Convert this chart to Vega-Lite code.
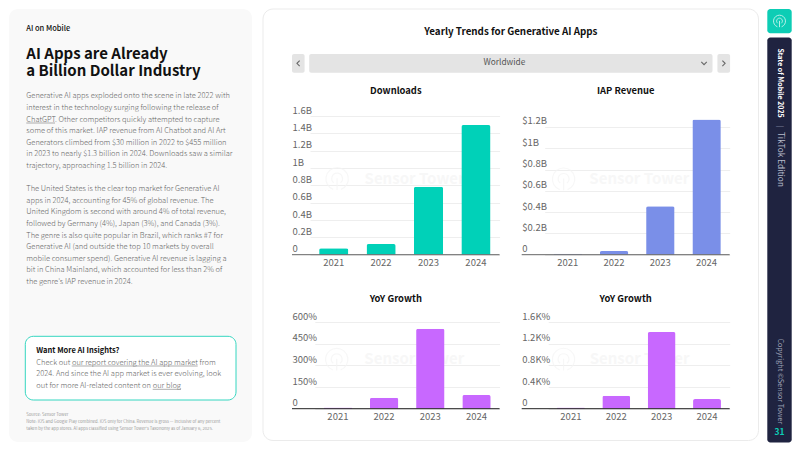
{"$schema":"https://vega.github.io/schema/vega-lite/v6.json","background":"#ffffff","padding":{"left":9,"top":8,"right":8,"bottom":9},"bounds":"flush","spacing":11,"config":{"font":"Noto Sans CJK SC","view":{"stroke":null},"axis":{"labelFont":"Noto Sans CJK SC","labelColor":"#666666","labelFontSize":9.5,"labelOverlap":false,"labelBound":false,"title":null,"ticks":false,"domain":false},"title":{"font":"Noto Sans CJK SC","fontSize":9.4,"fontWeight":"bold","color":"#111111"}},"hconcat":[
{"width":243,"height":433,"view":{"fill":"#f9f9f9","cornerRadius":9},"data":{"values":[{}]},"resolve":{"scale":{"y":"independent"}},"layer":[
{"mark":{"type":"rect","fill":"#ffffff","stroke":"#35d6c0","strokeWidth":1,"cornerRadius":8},"encoding":{"x":{"datum":16.3,"type":"quantitative","scale":{"domain":[0,243]},"axis":null},"x2":{"datum":227},"y":{"datum":327.3,"type":"quantitative","scale":{"domain":[0,433],"range":[0,433]},"axis":null},"y2":{"datum":391}}},
{"data":{"values":[{"line":0,"text":"AI on Mobile"}]},"mark":{"type":"text","align":"left","fontSize":7.5,"fontWeight":500,"color":"#111111"},"encoding":{"x":{"datum":17.3,"type":"quantitative","scale":{"domain":[0,243]},"axis":null},"y":{"field":"line","type":"quantitative","scale":{"domain":[0,1],"range":[20.3,21.3]},"axis":null},"text":{"field":"text"}}},
{"data":{"values":[{"line":0,"text":"AI Apps are Already"},{"line":1,"text":"a Billion Dollar Industry"}]},"mark":{"type":"text","align":"left","fontSize":15,"fontWeight":"bold","color":"#111111"},"encoding":{"x":{"datum":17.3,"type":"quantitative","scale":{"domain":[0,243]},"axis":null},"y":{"field":"line","type":"quantitative","scale":{"domain":[0,1],"range":[45.3,62]},"axis":null},"text":{"field":"text"}}},
{"data":{"values":[{"line":0,"text":"Generative AI apps exploded onto the scene in late 2022 with"},{"line":1,"text":"interest in the technology surging following the release of"},{"line":2,"text":"ChatGPT. Other competitors quickly attempted to capture"},{"line":3,"text":"some of this market. IAP revenue from AI Chatbot and AI Art"},{"line":4,"text":"Generators climbed from $30 million in 2022 to $455 million"},{"line":5,"text":"in 2023 to nearly $1.3 billion in 2024. Downloads saw a similar"},{"line":6,"text":"trajectory, approaching 1.5 billion in 2024."},{"line":8,"text":"The United States is the clear top market for Generative AI"},{"line":9,"text":"apps in 2024, accounting for 45% of global revenue. The"},{"line":10,"text":"United Kingdom is second with around 4% of total revenue,"},{"line":11,"text":"followed by Germany (4%), Japan (3%), and Canada (3%)."},{"line":12,"text":"The genre is also quite popular in Brazil, which ranks #7 for"},{"line":13,"text":"Generative AI (and outside the top 10 markets by overall"},{"line":14,"text":"mobile consumer spend). Generative AI revenue is lagging a"},{"line":15,"text":"bit in China Mainland, which accounted for less than 2% of"},{"line":16,"text":"the genre's IAP revenue in 2024."}]},"mark":{"type":"text","align":"left","fontSize":7.5,"fontWeight":300,"color":"#666666"},"encoding":{"x":{"datum":17.3,"type":"quantitative","scale":{"domain":[0,243]},"axis":null},"y":{"field":"line","type":"quantitative","scale":{"domain":[0,16],"range":[87.3,272.9]},"axis":null},"text":{"field":"text"}}},
{"data":{"values":[{"line":0,"text":"Want More AI Insights?"}]},"mark":{"type":"text","align":"left","fontSize":7.5,"fontWeight":"bold","color":"#111111"},"encoding":{"x":{"datum":27.3,"type":"quantitative","scale":{"domain":[0,243]},"axis":null},"y":{"field":"line","type":"quantitative","scale":{"domain":[0,1],"range":[342,343]},"axis":null},"text":{"field":"text"}}},
{"data":{"values":[{"line":0,"text":"Check out our report covering the AI app market from"},{"line":1,"text":"2024. And since the AI app market is ever evolving, look"},{"line":2,"text":"out for more AI-related content on our blog"}]},"mark":{"type":"text","align":"left","fontSize":7.5,"fontWeight":300,"color":"#666666"},"encoding":{"x":{"datum":27.3,"type":"quantitative","scale":{"domain":[0,243]},"axis":null},"y":{"field":"line","type":"quantitative","scale":{"domain":[0,2],"range":[353.7,377]},"axis":null},"text":{"field":"text"}}},
{"data":{"values":[{"line":0,"text":"Source: Sensor Tower"},{"line":1,"text":"Note: iOS and Google Play combined. iOS only for China. Revenue is gross — inclusive of any percent"},{"line":2,"text":"taken by the app stores. AI apps classified using Sensor Tower's Taxonomy as of January 6, 2025."}]},"mark":{"type":"text","align":"left","fontSize":4.2,"color":"#999999"},"encoding":{"x":{"datum":17.3,"type":"quantitative","scale":{"domain":[0,243]},"axis":null},"y":{"field":"line","type":"quantitative","scale":{"domain":[0,2],"range":[406.3,419.5]},"axis":null},"text":{"field":"text"}}},
{"mark":{"type":"rule","color":"#777777","strokeWidth":0.6},"encoding":{"x":{"datum":17.3,"type":"quantitative","scale":{"domain":[0,243]},"axis":null},"x2":{"datum":46},"y":{"datum":114,"type":"quantitative","scale":{"domain":[0,433],"range":[0,433]},"axis":null}}},
{"mark":{"type":"rule","color":"#777777","strokeWidth":0.6},"encoding":{"x":{"datum":62.7,"type":"quantitative","scale":{"domain":[0,243]},"axis":null},"x2":{"datum":188.7},"y":{"datum":357,"type":"quantitative","scale":{"domain":[0,433],"range":[0,433]},"axis":null}}},
{"mark":{"type":"rule","color":"#777777","strokeWidth":0.6},"encoding":{"x":{"datum":143.7,"type":"quantitative","scale":{"domain":[0,243]},"axis":null},"x2":{"datum":172},"y":{"datum":380.3,"type":"quantitative","scale":{"domain":[0,433],"range":[0,433]},"axis":null}}}
]},
{"bounds":"flush","spacing":504.3,"hconcat":[
{"bounds":"flush","spacing":0,"hconcat":[
{"width":28.7,"height":431.5,"data":{"values":[{}]},"mark":{"type":"rect","fill":"#ffffff","stroke":"#ebebeb","cornerRadius":10},"encoding":{"x":{"datum":0,"type":"quantitative","scale":{"domain":[0,1],"range":[0,495.5]},"axis":null},"x2":{"datum":1}}},
{"bounds":"flush","spacing":107,"vconcat":[
{"bounds":"flush","spacing":0,"vconcat":[
{"width":437.6,"height":44.3,"title":{"text":"Yearly Trends for Generative AI Apps","fontSize":9.8,"anchor":"middle","offset":-28},"data":{"values":[{}]},"mark":{"type":"rect","opacity":0},"encoding":{}},
{"bounds":"flush","spacing":4.2,"hconcat":[
{"width":12.6,"height":18.7,"view":{"fill":"#e4e4e4","cornerRadius":2},"data":{"values":[{"control":"previous"}]},"mark":{"type":"point","shape":"M0.5,-1 L-0.5,0 L0.5,1","filled":false,"stroke":"#333333","strokeWidth":1.1,"size":30},"encoding":{}},
{"width":403.3,"height":18.7,"view":{"fill":"#e4e4e4","cornerRadius":2},"data":{"values":[{"label":"Worldwide"}]},"layer":[{"mark":{"type":"text","fontSize":8.3,"color":"#555555"},"encoding":{"x":{"datum":48.4,"type":"quantitative","scale":{"domain":[0,100]},"axis":null},"text":{"field":"label"}}},{"mark":{"type":"point","shape":"M-1,-0.5 L0,0.5 L1,-0.5","filled":false,"stroke":"#333333","strokeWidth":1.1,"size":30},"encoding":{"x":{"datum":97.9,"type":"quantitative","scale":{"domain":[0,100]},"axis":null}}}]},
{"width":12.7,"height":18.7,"view":{"fill":"#e4e4e4","cornerRadius":2},"data":{"values":[{"control":"next"}]},"mark":{"type":"point","shape":"M-0.5,-1 L0.5,0 L-0.5,1","filled":false,"stroke":"#333333","strokeWidth":1.1,"size":30},"encoding":{}}
]}
]},
{"bounds":"flush","columns":2,"spacing":{"row":67,"column":21.7},"concat":[
{"width":207.6,"height":138.7,"title":{"text":"Downloads","anchor":"middle","offset":9},"data":{"values":[{"year":"2021","value":0.073},{"year":"2022","value":0.123},{"year":"2023","value":0.783},{"year":"2024","value":1.496}]},"encoding":{"x":{"field":"year","type":"nominal","scale":{"domain":["2021","2022","2023","2024"],"range":[18,207.6],"paddingInner":0.385,"paddingOuter":0.1925},"axis":{"labelAngle":0,"labelPadding":3,"grid":false}}},"layer":[
{"data":{"values":[{"watermark":"Sensor Tower"}]},"mark":{"type":"text","fontSize":15,"fontWeight":"bold","color":"#f7f7f7","dx":-14},"encoding":{"x":{"datum":"2023"},"y":{"datum":0.875,"type":"quantitative"},"text":{"field":"watermark"}}},
{"data":{"values":[{"watermark":"Sensor Tower"}]},"mark":{"type":"point","shape":"M-0.35,0.94 A1,1 0 1 1 0.35,0.94 M-0.3,0.35 A0.48,0.48 0 1 1 0.3,0.35 M0,-0.05 L0,1","filled":false,"stroke":"#f5f5f5","strokeWidth":1.2,"size":500},"encoding":{"x":{"datum":"2021"},"xOffset":{"value":18},"y":{"datum":0.875,"type":"quantitative"}}},
{"mark":{"type":"bar","color":"#00d1b8","cornerRadiusTopLeft":2,"cornerRadiusTopRight":2},"encoding":{"y":{"field":"value","type":"quantitative","scale":{"domain":[0,1.6]},"axis":{"values":[0,0.2,0.4,0.6,0.8,1,1.2,1.4,1.6],"tickCount":20,"labelExpr":"datum.value==0?'0':datum.value+'B'","labelAlign":"left","labelBaseline":"bottom","labelPadding":0,"labelOffset":-1,"tickSize":0,"grid":true,"gridColor":"#eeeeee"}}}},
{"mark":{"type":"rule","color":"#666666","strokeWidth":1},"encoding":{"y":{"datum":0,"type":"quantitative"},"x":{"value":0},"x2":{"value":207.6}},"data":{"values":[{}]}}
]},
{"width":208,"height":138.7,"title":{"text":"IAP Revenue","anchor":"middle","offset":20},"data":{"values":[{"year":"2021","value":0.008},{"year":"2022","value":0.034},{"year":"2023","value":0.456},{"year":"2024","value":1.27}]},"encoding":{"x":{"field":"year","type":"nominal","scale":{"domain":["2021","2022","2023","2024"],"range":[23,208],"paddingInner":0.385,"paddingOuter":0.1925},"axis":{"labelAngle":0,"labelPadding":3,"grid":false}}},"layer":[
{"data":{"values":[{"watermark":"Sensor Tower"}]},"mark":{"type":"text","fontSize":15,"fontWeight":"bold","color":"#f7f7f7","dx":-21},"encoding":{"x":{"datum":"2023"},"y":{"datum":0.71,"type":"quantitative","scale":{"domain":[0,1.303],"nice":false}},"text":{"field":"watermark"}}},
{"data":{"values":[{"watermark":"Sensor Tower"}]},"mark":{"type":"point","shape":"M-0.35,0.94 A1,1 0 1 1 0.35,0.94 M-0.3,0.35 A0.48,0.48 0 1 1 0.3,0.35 M0,-0.05 L0,1","filled":false,"stroke":"#f5f5f5","strokeWidth":1.2,"size":500},"encoding":{"x":{"datum":"2021"},"xOffset":{"value":10},"y":{"datum":0.71,"type":"quantitative","scale":{"domain":[0,1.303],"nice":false}}}},
{"mark":{"type":"bar","color":"#7a8fe8","cornerRadiusTopLeft":2,"cornerRadiusTopRight":2},"encoding":{"y":{"field":"value","type":"quantitative","scale":{"domain":[0,1.303],"nice":false},"axis":{"values":[0,0.2,0.4,0.6,0.8,1,1.2],"tickCount":20,"labelExpr":"datum.value==0?'0':'$'+datum.value+'B'","labelAlign":"left","labelBaseline":"bottom","labelPadding":0,"labelOffset":-1,"tickSize":0,"grid":true,"gridColor":"#eeeeee"}}}},
{"mark":{"type":"rule","color":"#666666","strokeWidth":1},"encoding":{"y":{"datum":0,"type":"quantitative","scale":{"domain":[0,1.303],"nice":false}},"x":{"value":0},"x2":{"value":208}},"data":{"values":[{}]}}
]},
{"width":207.6,"height":86.7,"title":{"text":"YoY Growth","anchor":"middle","offset":7},"data":{"values":[{"year":"2021","value":9},{"year":"2022","value":76},{"year":"2023","value":554},{"year":"2024","value":95}]},"encoding":{"x":{"field":"year","type":"nominal","scale":{"domain":["2021","2022","2023","2024"],"range":[22.8,207.6],"paddingInner":0.385,"paddingOuter":0.1925},"axis":{"labelAngle":0,"labelPadding":3,"grid":false}}},"layer":[
{"data":{"values":[{"watermark":"Sensor Tower"}]},"mark":{"type":"text","fontSize":15,"fontWeight":"bold","color":"#f7f7f7","dx":-16},"encoding":{"x":{"datum":"2023"},"y":{"datum":341,"type":"quantitative"},"text":{"field":"watermark"}}},
{"data":{"values":[{"watermark":"Sensor Tower"}]},"mark":{"type":"point","shape":"M-0.35,0.94 A1,1 0 1 1 0.35,0.94 M-0.3,0.35 A0.48,0.48 0 1 1 0.3,0.35 M0,-0.05 L0,1","filled":false,"stroke":"#f5f5f5","strokeWidth":1.2,"size":500},"encoding":{"x":{"datum":"2021"},"xOffset":{"value":13},"y":{"datum":341,"type":"quantitative"}}},
{"mark":{"type":"bar","color":"#c868ff","cornerRadiusTopLeft":2,"cornerRadiusTopRight":2},"encoding":{"y":{"field":"value","type":"quantitative","scale":{"domain":[0,600]},"axis":{"values":[0,150,300,450,600],"tickCount":20,"labelExpr":"datum.value==0?'0':datum.value+'%'","labelAlign":"left","labelBaseline":"bottom","labelPadding":0,"labelOffset":-1,"tickSize":0,"grid":true,"gridColor":"#eeeeee"}}}},
{"mark":{"type":"rule","color":"#222222","strokeWidth":1},"encoding":{"y":{"datum":0,"type":"quantitative"},"x":{"value":0},"x2":{"value":207.6}},"data":{"values":[{}]}}
]},
{"width":208,"height":86.7,"title":{"text":"YoY Growth","anchor":"middle","offset":7},"data":{"values":[{"year":"2021","value":24},{"year":"2022","value":240},{"year":"2023","value":1415},{"year":"2024","value":178}]},"encoding":{"x":{"field":"year","type":"nominal","scale":{"domain":["2021","2022","2023","2024"],"range":[26.5,208],"paddingInner":0.385,"paddingOuter":0.1925},"axis":{"labelAngle":0,"labelPadding":3,"grid":false}}},"layer":[
{"data":{"values":[{"watermark":"Sensor Tower"}]},"mark":{"type":"text","fontSize":15,"fontWeight":"bold","color":"#f7f7f7","dx":-22},"encoding":{"x":{"datum":"2023"},"y":{"datum":910,"type":"quantitative"},"text":{"field":"watermark"}}},
{"data":{"values":[{"watermark":"Sensor Tower"}]},"mark":{"type":"point","shape":"M-0.35,0.94 A1,1 0 1 1 0.35,0.94 M-0.3,0.35 A0.48,0.48 0 1 1 0.3,0.35 M0,-0.05 L0,1","filled":false,"stroke":"#f5f5f5","strokeWidth":1.2,"size":500},"encoding":{"x":{"datum":"2021"},"xOffset":{"value":6.6},"y":{"datum":910,"type":"quantitative"}}},
{"mark":{"type":"bar","color":"#c868ff","cornerRadiusTopLeft":2,"cornerRadiusTopRight":2},"encoding":{"y":{"field":"value","type":"quantitative","scale":{"domain":[0,1600]},"axis":{"values":[0,400,800,1200,1600],"tickCount":20,"labelExpr":"datum.value==0?'0':(datum.value/1000)+'K%'","labelAlign":"left","labelBaseline":"bottom","labelPadding":0,"labelOffset":-1,"tickSize":0,"grid":true,"gridColor":"#eeeeee"}}}},
{"mark":{"type":"rule","color":"#222222","strokeWidth":1},"encoding":{"y":{"datum":0,"type":"quantitative"},"x":{"value":0},"x2":{"value":208}},"data":{"values":[{}]}}
]}
]}
]}
]},
{"bounds":"flush","spacing":3.4,"vconcat":[
{"width":24.4,"height":24.3,"view":{"fill":"#0dcdb5","cornerRadius":3},"data":{"values":[{"logo":"Sensor Tower"}]},"mark":{"type":"point","shape":"M-0.35,0.94 A1,1 0 1 1 0.35,0.94 M-0.3,0.35 A0.48,0.48 0 1 1 0.3,0.35 M0,-0.05 L0,1","filled":false,"stroke":"#ffffff","strokeWidth":1,"size":144},"encoding":{}},
{"width":24.4,"height":405,"view":{"fill":"#1f2340","cornerRadius":3},"data":{"values":[{}]},"layer":[
{"data":{"values":[{"text":"State of Mobile 2025"}]},"mark":{"type":"text","angle":90,"align":"left","fontSize":7,"fontWeight":"bold","color":"#ffffff"},"encoding":{"y":{"datum":11,"type":"quantitative","scale":{"domain":[0,405],"reverse":true},"axis":null},"text":{"field":"text"}}},
{"data":{"values":[{"text":"|"}]},"mark":{"type":"text","angle":90,"align":"center","fontSize":7,"color":"#888ea8"},"encoding":{"y":{"datum":89,"type":"quantitative","scale":{"domain":[0,405],"reverse":true},"axis":null},"text":{"field":"text"}}},
{"data":{"values":[{"text":"TikTok Edition"}]},"mark":{"type":"text","angle":90,"align":"left","fontSize":8.3,"color":"#b8bccb"},"encoding":{"y":{"datum":94.5,"type":"quantitative","scale":{"domain":[0,405],"reverse":true},"axis":null},"text":{"field":"text"}}},
{"data":{"values":[{"text":"Copyright ©Sensor Tower"}]},"mark":{"type":"text","angle":90,"align":"left","fontSize":7.2,"color":"#9ca0b4"},"encoding":{"y":{"datum":301,"type":"quantitative","scale":{"domain":[0,405],"reverse":true},"axis":null},"text":{"field":"text"}}},
{"data":{"values":[{"text":"31"}]},"mark":{"type":"text","align":"center","fontSize":8.5,"fontWeight":"bold","color":"#0dcdb5"},"encoding":{"y":{"datum":394.5,"type":"quantitative","scale":{"domain":[0,405],"reverse":true},"axis":null},"text":{"field":"text"}}}
]}
]}
]}
]}
